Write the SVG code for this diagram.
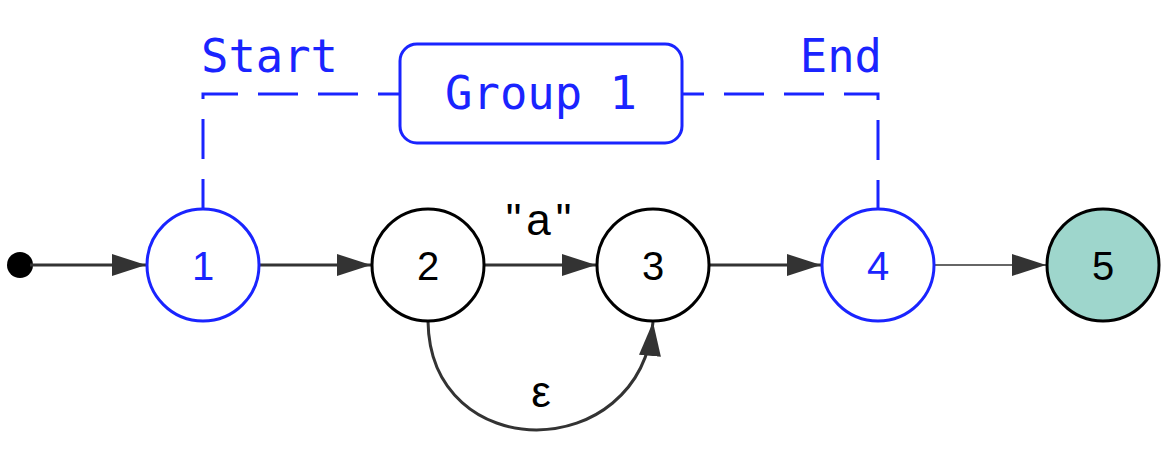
<svg xmlns="http://www.w3.org/2000/svg" width="1166" height="460" viewBox="0 0 1166 460">
<style>
.bg{fill:#ffffff}
.edge{fill:none;stroke:#333333;stroke-width:3}
.thin{stroke-width:1.5}
.state{fill:#ffffff;stroke:#000000;stroke-width:3}
.bstate{fill:#ffffff;stroke:#1a24ff;stroke-width:3}
.grp{fill:#ffffff;stroke:#1a24ff;stroke-width:3}
.accept{fill:#9ed6cc}
.num{font-family:"Liberation Sans",Arial,sans-serif;font-size:40px;text-anchor:middle;fill:#000000}
.blue{fill:#1a24ff}
.lbl{font-family:"Liberation Sans",Arial,sans-serif;font-size:44px;text-anchor:middle;fill:#000000}
.mono{font-family:"DejaVu Sans Mono","Liberation Mono",monospace;font-size:45.5px;fill:#1a24ff}
.dash{fill:none;stroke:#1a24ff;stroke-width:3;stroke-dasharray:40 20;stroke-dashoffset:18}
</style>
<defs>
<marker id="arr" markerUnits="userSpaceOnUse" markerWidth="36" markerHeight="24" refX="34" refY="11" orient="auto">
<path d="M0,0 L34,11 L0,22 z" fill="#333333"/>
</marker>
</defs>
<rect class="bg" x="0" y="0" width="1166" height="460"/>
<g id="group-bracket">
<path class="dash" d="M400,94 L203,94 L203,208"/>
<path class="dash" d="M682,94 L878,94 L878,208"/>
<text class="mono" x="201" y="72">Start</text>
<text class="mono" x="882" y="72" text-anchor="end">End</text>
</g>
<g id="group1">
<rect class="grp" x="400" y="44" width="282" height="99" rx="17"/>
<text class="mono" x="541" y="109" text-anchor="middle">Group 1</text>
</g>
<g id="connectors">
<circle cx="20" cy="265" r="13" fill="#000000"/>
<path class="edge" d="M30,265 L146,265" marker-end="url(#arr)"/>
<path class="edge" d="M260,265 L371,265" marker-end="url(#arr)"/>
<path class="edge" d="M485,265 L596,265" marker-end="url(#arr)"/>
<path class="edge" d="M710,265 L821,265" marker-end="url(#arr)"/>
<path class="edge thin" d="M935,265 L1046,265" marker-end="url(#arr)"/>
<path class="edge" d="M428,321 C430,466 640,466 653,322" marker-end="url(#arr)"/>
<text class="lbl" x="541" y="235" letter-spacing="5">"a"</text>
<text class="lbl" x="541" y="407">ε</text>
</g>
<g id="node1">
<circle class="bstate" cx="203" cy="265" r="56"/>
<text class="num blue" x="203" y="280">1</text>
</g>
<g id="node2">
<circle class="state" cx="428" cy="265" r="56"/>
<text class="num" x="428" y="280">2</text>
</g>
<g id="node3">
<circle class="state" cx="653" cy="265" r="56"/>
<text class="num" x="653" y="280">3</text>
</g>
<g id="node4">
<circle class="bstate" cx="878" cy="265" r="56"/>
<text class="num blue" x="878" y="280">4</text>
</g>
<g id="node5">
<circle class="state accept" cx="1103" cy="265" r="56"/>
<text class="num" x="1103" y="280">5</text>
</g>
</svg>
